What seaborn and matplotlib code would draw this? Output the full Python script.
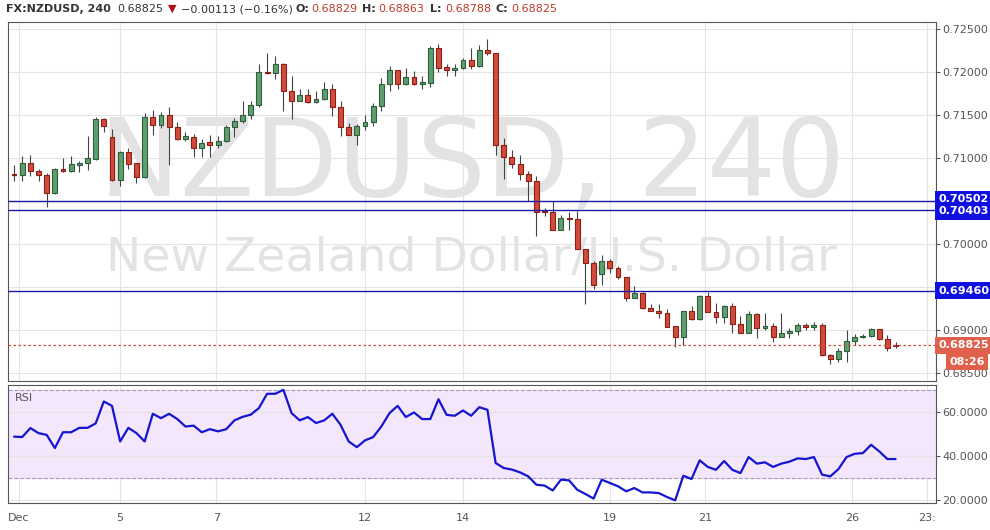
import numpy as np
import pandas as pd
import seaborn as sns
import matplotlib.pyplot as plt

sns.set_style("white")
plt.rcParams['font.family'] = ['DejaVu Sans']

# 4h candles, NZDUSD
opens = [.7082, .7080, .7095, .7085, .7081, .7059, .7088, .7085, .7092, .7094,
         .7099, .7145, .7125, .7075, .7107, .7094, .7078, .7148, .7139, .7150,
         .7136, .7122, .7125, .7112, .7119, .7115, .7120, .7136, .7143, .7150,
         .7162, .7200, .7199, .7210, .7178, .7167, .7173, .7165, .7169, .7181,
         .7159, .7136, .7127, .7137, .7142, .7161, .7186, .7203, .7186, .7194,
         .7186, .7187, .7228, .7206, .7203, .7205, .7214, .7207, .7226, .7222,
         .7115, .7101, .7093, .7082, .7074, .7039, .7037, .7017, .7031, .7029,
         .6995, .6978, .6965, .6981, .6972, .6962, .6938, .6943, .6926, .6923,
         .6920, .6905, .6892, .6922, .6913, .6940, .6921, .6915, .6928, .6907,
         .6897, .6919, .6903, .6905, .6892, .6897, .6899, .6906, .6904, .6906,
         .6871, .6867, .6876, .6888, .6892, .6893, .6902, .6890, .6883]
closes = [.7080, .7095, .7085, .7081, .7059, .7088, .7085, .7093, .7094, .7100,
          .7145, .7138, .7075, .7107, .7093, .7078, .7148, .7139, .7150, .7136,
          .7122, .7126, .7112, .7118, .7115, .7120, .7136, .7143, .7150, .7162,
          .7200, .7199, .7210, .7178, .7167, .7173, .7165, .7169, .7181, .7159,
          .7136, .7127, .7138, .7142, .7161, .7186, .7203, .7186, .7194, .7186,
          .7188, .7228, .7205, .7203, .7205, .7214, .7207, .7226, .7222, .7115,
          .7101, .7093, .7082, .7074, .7038, .7037, .7017, .7031, .7029, .6995,
          .6978, .6953, .6981, .6972, .6962, .6938, .6943, .6926, .6922, .6920,
          .6904, .6892, .6922, .6913, .6940, .6921, .6915, .6928, .6907, .6897,
          .6919, .6903, .6905, .6892, .6897, .6899, .6906, .6904, .6906, .6871,
          .6867, .6876, .6888, .6892, .6893, .6902, .6890, .6880, .6882]
highs = [.7092, .7103, .7104, .7088, .7083, .7089, .7100, .7102, .7097, .7126,
         .7148, .7147, .7134, .7108, .7112, .7095, .7152, .7156, .7154, .7160,
         .7142, .7130, .7128, .7122, .7127, .7126, .7139, .7147, .7167, .7166,
         .7210, .7222, .7219, .7211, .7195, .7180, .7180, .7178, .7188, .7186,
         .7167, .7141, .7140, .7150, .7164, .7193, .7207, .7203, .7205, .7201,
         .7195, .7230, .7233, .7210, .7209, .7217, .7228, .7232, .7238, .7222,
         .7123, .7110, .7104, .7085, .7079, .7042, .7050, .7034, .7037, .7039,
         .6995, .6980, .6988, .6983, .6975, .6962, .6952, .6945, .6931, .6930,
         .6925, .6905, .6922, .6928, .6941, .6945, .6932, .6929, .6932, .6917,
         .6922, .6920, .6920, .6909, .6920, .6903, .6908, .6908, .6910, .6908,
         .6872, .6880, .6900, .6896, .6896, .6903, .6902, .6895, .6886]
lows = [.7073, .7073, .7079, .7073, .7043, .7058, .7084, .7084, .7084, .7086,
        .7098, .7130, .7073, .7068, .7088, .7071, .7077, .7127, .7135, .7092,
        .7121, .7120, .7101, .7101, .7101, .7112, .7119, .7125, .7141, .7145,
        .7160, .7198, .7192, .7155, .7146, .7166, .7164, .7164, .7168, .7149,
        .7126, .7127, .7115, .7133, .7138, .7155, .7178, .7181, .7185, .7185,
        .7181, .7183, .7200, .7195, .7196, .7204, .7204, .7206, .7220, .7104,
        .7076, .7089, .7075, .7050, .7010, .7033, .7017, .7016, .7016, .6995,
        .6930, .6948, .6953, .6967, .6960, .6934, .6937, .6925, .6922, .6914,
        .6904, .6881, .6883, .6912, .6912, .6921, .6909, .6909, .6897, .6897,
        .6897, .6891, .6900, .6886, .6892, .6891, .6895, .6900, .6900, .6870,
        .6861, .6863, .6863, .6883, .6891, .6892, .6889, .6876, .6879]
rsi = [49, 48.8, 52.9, 50.6, 49.8, 43.8, 51, 51, 53, 53, 55, 65, 63, 46.8, 53, 50.6,
       46.8, 59.4, 57.4, 59.4, 57, 53.6, 54, 51, 52.4, 51.4, 52.4, 56.4, 58, 59,
       62, 68.5, 68.5, 70.3, 59.7, 56.4, 57.9, 55.2, 56.4, 59.4, 54.4, 46.8, 44.2,
       47.3, 48.8, 53.6, 59.7, 63, 57.9, 60, 57, 57, 66, 58.9, 58.5, 60.9, 58.5,
       62.4, 61.2, 37, 34.7, 34, 32.7, 30.9, 27.1, 26.7, 24.5, 29.4, 29.1, 24.8,
       22.9, 20.8, 29.4, 27.9, 26.4, 24.1, 25.6, 23.6, 23.6, 23.3, 21.5, 20,
       31.2, 29.7, 38.2, 35.2, 33.9, 37.9, 33.9, 32.4, 39.7, 36.7, 37.3, 35.2,
       36.7, 37.6, 39.1, 38.8, 39.7, 31.7, 30.9, 34.2, 39.7, 41.2, 41.5, 45.3,
       42.3, 38.8, 38.8]
date_pos = [0.6, 13, 24.8, 43, 55, 73, 84.7, 102.7, 111.9]
date_labels = ['Dec', '5', '7', '12', '14', '19', '21', '26', '23:']
levels = [0.70502, 0.70403, 0.69460]
last_price = 0.68825

df = pd.DataFrame({'o': opens, 'c': closes, 'h': highs, 'l': lows})
df['i'] = np.arange(len(df))
up = df['c'] >= df['o']

fig = plt.figure(figsize=(9.9, 5.3), dpi=100)
ax = fig.add_axes([0.008, 0.281, 0.937, 0.677])
ax2 = fig.add_axes([0.008, 0.051, 0.937, 0.223])

xlim = (-0.75, 112.9)
grid_c = '#e4e4e4'
for a in (ax, ax2):
    a.set_xlim(*xlim)
    for p in date_pos:
        a.axvline(p, color=grid_c, lw=0.8, zorder=0)
    for s in a.spines.values():
        s.set_color('#555555')
ax.set_ylim(0.6841, 0.7258)
yt = [0.685, 0.690, 0.700, 0.710, 0.715, 0.720, 0.725]
ax.set_yticks(yt)
ax.yaxis.tick_right()
ax.tick_params(axis='y', labelsize=8, colors='#555555', length=3, pad=2)
ax.set_yticklabels([f'{v:.5f}' for v in yt])
ax.set_xticks([])
for v in np.arange(0.685, 0.7251, 0.005):
    ax.axhline(v, color=grid_c, lw=0.8, zorder=0)

# watermark
ax.text(0.5, 0.6, 'NZDUSD, 240', transform=ax.transAxes, ha='center', va='center',
        fontsize=78, color='#e3e3e3', zorder=0)
ax.text(0.5, 0.342, 'New Zealand Dollar/U.S. Dollar', transform=ax.transAxes,
        ha='center', va='center', fontsize=34, color='#e3e3e3', zorder=0)

# candles
g_face, g_edge = '#5f9e6e', '#2f5e3c'
r_face, r_edge = '#d24a3c', '#8a1f14'
ax.vlines(df['i'], df['l'], df['h'], color='#444444', lw=0.8, zorder=2)
body = (df['c'] - df['o']).abs().clip(lower=0.00003)
ax.bar(df['i'][up], body[up], bottom=df['o'][up], width=0.6, color=g_face,
       edgecolor=g_edge, lw=0.8, zorder=3)
ax.bar(df['i'][~up], body[~up], bottom=df['c'][~up], width=0.6, color=r_face,
       edgecolor=r_edge, lw=0.8, zorder=3)

for lv, off in zip(levels, [0.0002, -0.0002, 0]):
    ax.axhline(lv, color='#1a1aa8', lw=1, zorder=4)
    ax.text(1.003, lv + off, f'{lv:.5f}', transform=ax.get_yaxis_transform(), va='center',
            ha='left', fontsize=8, color='white', weight='bold', zorder=6,
            bbox=dict(boxstyle='square,pad=0.3', fc='#1010e0', ec='none'), clip_on=False)
ax.axhline(last_price, color='#d24a3c', lw=0.9, ls=(0, (2, 2)), zorder=4)
ax.text(1.003, last_price, f'{last_price:.5f}', transform=ax.get_yaxis_transform(),
        va='center', ha='left', fontsize=8, color='white', weight='bold', zorder=6,
        bbox=dict(boxstyle='square,pad=0.3', fc='#e0604c', ec='none'), clip_on=False)
ax.text(1.015, last_price - 0.0019, '08:26', transform=ax.get_yaxis_transform(),
        va='center', ha='left', fontsize=8, color='white', weight='bold', zorder=6,
        bbox=dict(boxstyle='square,pad=0.3', fc='#e0604c', ec='none'), clip_on=False)

# RSI panel
ax2.set_ylim(18.8, 72.6)
ax2.axhspan(30, 70, color='#f4e6fb', zorder=0)
for v in (30, 70):
    ax2.axhline(v, color='#a89cb8', lw=0.8, ls='--', zorder=1)
for v in (20, 40, 60):
    ax2.axhline(v, color=grid_c, lw=0.8, zorder=0)
n = len(rsi)
rsi_df = pd.DataFrame({'x': np.arange(n) + (len(df) - n), 'rsi': rsi})
sns.lineplot(data=rsi_df, x='x', y='rsi', ax=ax2, color='#1515d0', lw=1.6, zorder=3)
ax2.set_xlim(*xlim)
ax2.set_xlabel('')
ax2.set_ylabel('')
ax2.yaxis.tick_right()
ax2.set_yticks([20, 40, 60])
ax2.set_yticklabels(['20.0000', '40.0000', '60.0000'])
ax2.tick_params(axis='y', labelsize=8, colors='#555555', length=3, pad=2)
ax2.set_xticks(date_pos)
ax2.set_xticklabels(date_labels)
ax2.tick_params(axis='x', labelsize=8, colors='#555555', length=3, pad=4)
ax2.text(0.008, 0.86, 'RSI', transform=ax2.transAxes, fontsize=8, color='#555555')

# header
y0 = 0.983
fs = 8
fig.text(0.006, y0, 'FX:NZDUSD, 240', fontsize=fs, weight='bold', color='#333333', va='center')
fig.text(0.118, y0, '0.68825', fontsize=fs, color='#333333', va='center')
fig.text(0.170, y0, '▼', fontsize=fs, color='#b01010', va='center')
fig.text(0.183, y0, '−0.00113 (−0.16%)', fontsize=fs, color='#333333', va='center')
xs = [0.298, 0.366, 0.434, 0.500]
for lab, val, x in zip(['O:', 'H:', 'L:', 'C:'], ['0.68829', '0.68863', '0.68788', '0.68825'], xs):
    fig.text(x, y0, lab, fontsize=fs, weight='bold', color='#333333', va='center')
    fig.text(x + 0.016, y0, val, fontsize=fs, color='#c0392b', va='center')

fig.savefig('out.png', dpi=100, facecolor='white')
